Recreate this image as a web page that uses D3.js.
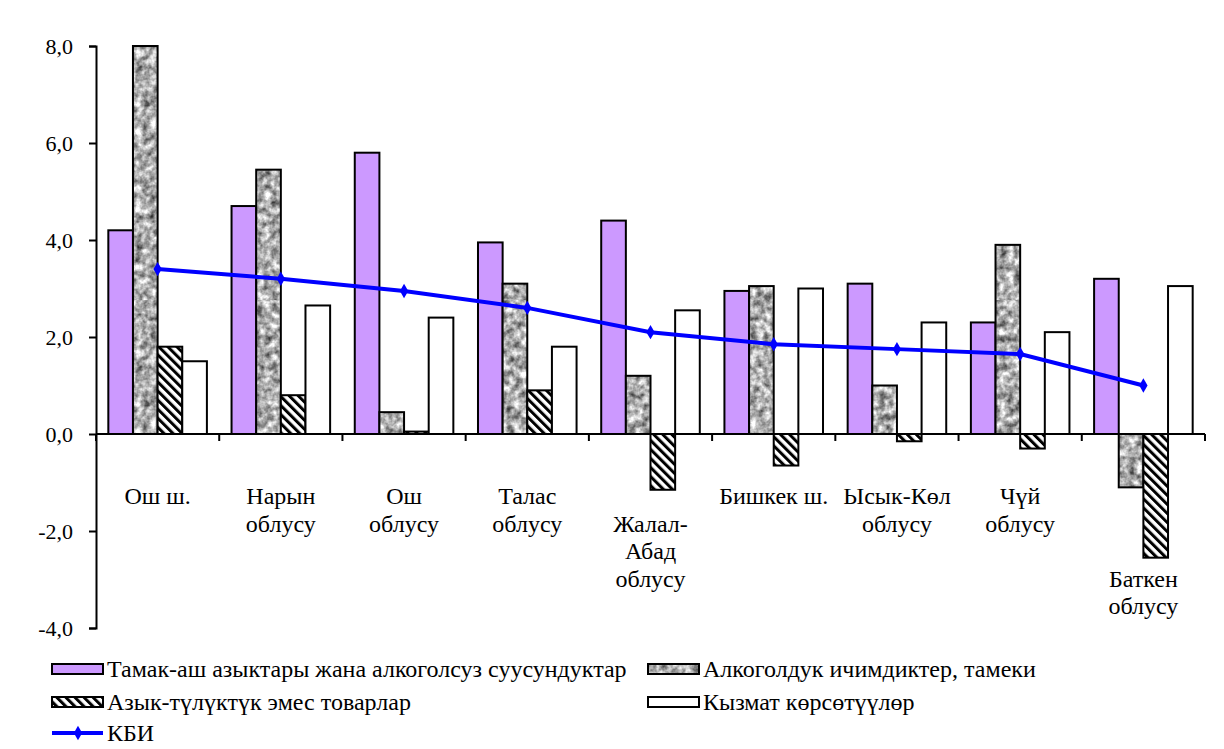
<!DOCTYPE html>
<html>
<head>
<meta charset="utf-8">
<script src="https://cdn.jsdelivr.net/npm/d3@7"></script>
<style>
  body { margin: 0; background: #fff; }
</style>
</head>
<body>
<div id="chart"></div>
<script>
var regions = ["Ош ш.", "Нарын облусу", "Ош облусу", "Талас облусу", "Жалал-Абад облусу",
               "Бишкек ш.", "Ысык-Көл облусу", "Чүй облусу", "Баткен облусу"];
// label lines as printed under the axis
var regionLines = [["Ош ш."], ["Нарын", "облусу"], ["Ош", "облусу"], ["Талас", "облусу"],
                   ["Жалал-", "Абад", "облусу"], ["Бишкек ш."], ["Ысык-Көл", "облусу"],
                   ["Чүй", "облусу"], ["Баткен", "облусу"]];
var seriesNames = ["Тамак-аш азыктары жана алкоголсуз суусундуктар", "Алкоголдук ичимдиктер, тамеки",
                   "Азык-түлүктүк эмес товарлар", "Кызмат көрсөтүүлөр"];
var food    = [4.2, 4.7, 5.8, 3.95, 4.4, 2.95, 3.1, 2.3, 3.2];
var alcohol = [8.0, 5.45, 0.45, 3.1, 1.2, 3.05, 1.0, 3.9, -1.1];
var nonfood = [1.8, 0.8, 0.05, 0.9, -1.15, -0.65, -0.15, -0.3, -2.55];
var service = [1.5, 2.65, 2.4, 1.8, 2.55, 3.0, 2.3, 2.1, 3.05];
var kbi     = [3.4, 3.2, 2.95, 2.6, 2.1, 1.85, 1.75, 1.65, 1.0];
var yTicks  = [-4, -2, 0, 2, 4, 6, 8];

var width = 1224, height = 749;
var serif = "'Liberation Serif', 'Times New Roman', 'DejaVu Serif', serif";
var fills = ["#cc99ff", "url(#granite)", "url(#hatch)", "#ffffff"];
var values = [food, alcohol, nonfood, service];
// how many lines each label is pushed down
var labelShift = [0, 0, 0, 0, 1, 0, 0, 0, 3];

var svg = d3.select("#chart").append("svg")
    .attr("width", width)
    .attr("height", height)
    .attr("font-family", serif);

var defs = svg.append("defs");

// granite-like texture for alcohol bars
var noise = defs.append("filter").attr("id", "noise")
    .attr("x", 0).attr("y", 0).attr("width", 1).attr("height", 1)
    .attr("color-interpolation-filters", "sRGB");
noise.append("feTurbulence")
    .attr("type", "fractalNoise")
    .attr("baseFrequency", 0.14)
    .attr("numOctaves", 3)
    .attr("seed", 4);
noise.append("feColorMatrix")
    .attr("type", "matrix")
    .attr("values", "1.2 0 0 0 0.08  1.2 0 0 0 0.08  1.2 0 0 0 0.08  0 0 0 0 1");
defs.append("pattern").attr("id", "granite")
    .attr("patternUnits", "userSpaceOnUse")
    .attr("width", 300).attr("height", 300)
  .append("rect")
    .attr("width", 300).attr("height", 300)
    .attr("filter", "url(#noise)");

var hatch = defs.append("pattern").attr("id", "hatch")
    .attr("patternUnits", "userSpaceOnUse")
    .attr("width", 6.4).attr("height", 6.4)
    .attr("patternTransform", "rotate(-45)");
hatch.append("rect").attr("width", 6.4).attr("height", 6.4).attr("fill", "#fff");
hatch.append("rect").attr("width", 3).attr("height", 6.4).attr("fill", "#000");

var x = d3.scaleBand()
    .domain(regions)
    .range([96, 1205]);

var xs = d3.scaleBand()
    .domain(d3.range(4))
    .range([0, x.bandwidth()])
    .paddingOuter(0.5);

var y = d3.scaleLinear()
    .domain([-4, 8])
    .range([628, 46]);

// bars
values.forEach(function(vals, s) {
  svg.append("g").selectAll("rect")
      .data(vals)
      .enter().append("rect")
      .attr("x", function(d, i) { return x(regions[i]) + xs(s); })
      .attr("y", function(d) { return y(Math.max(0, d)); })
      .attr("width", xs.bandwidth())
      .attr("height", function(d) { return Math.abs(y(d) - y(0)); })
      .attr("fill", fills[s])
      .attr("stroke", "#000")
      .attr("stroke-width", 2);
});

// y axis
var yAxis = d3.axisLeft(y)
    .tickValues(yTicks)
    .tickSize(7)
    .tickPadding(16)
    .tickFormat(function(d) { return d3.format(".1f")(d).replace(".", ",").replace("\u2212", "-"); });

svg.append("g")
    .attr("transform", "translate(96,0)")
    .call(yAxis)
    .attr("font-family", serif)
    .attr("font-size", 22)
    .call(function(g) {
      g.selectAll("path, line").attr("stroke", "#000").attr("stroke-width", 2);
    });

// x axis line at zero with ticks on category edges
var xAxisG = svg.append("g");
xAxisG.append("line")
    .attr("x1", 96).attr("x2", 1205)
    .attr("y1", y(0)).attr("y2", y(0))
    .attr("stroke", "#000").attr("stroke-width", 2);
xAxisG.selectAll(".xt")
    .data(regions.map(function(r) { return x(r); }).concat([x.range()[1]]))
    .enter().append("line")
    .attr("x1", function(d) { return d; }).attr("x2", function(d) { return d; })
    .attr("y1", y(0)).attr("y2", y(0) + 7)
    .attr("stroke", "#000").attr("stroke-width", 2);

// category labels
var lineH = 27.5;
regions.forEach(function(r, i) {
  var t = svg.append("text")
      .attr("x", x(r) + x.bandwidth() / 2)
      .attr("y", 504 + labelShift[i] * lineH)
      .attr("text-anchor", "middle")
      .attr("font-size", 24);
  regionLines[i].forEach(function(l, j) {
    t.append("tspan")
        .attr("x", x(r) + x.bandwidth() / 2)
        .attr("dy", j === 0 ? 0 : lineH)
        .text(l);
  });
});

// KBI line
var line = d3.line()
    .x(function(d, i) { return x(regions[i]) + x.bandwidth() / 2; })
    .y(function(d) { return y(d); });

svg.append("path")
    .datum(kbi)
    .attr("d", line)
    .attr("fill", "none")
    .attr("stroke", "#0000ff")
    .attr("stroke-width", 4);

var diamond = d3.symbol().type(d3.symbolDiamond).size(60);
svg.append("g").selectAll("path")
    .data(kbi)
    .enter().append("path")
    .attr("d", diamond)
    .attr("transform", function(d, i) {
      return "translate(" + (x(regions[i]) + x.bandwidth() / 2) + "," + y(d) + ")";
    })
    .attr("fill", "#0000ff");

// legend
var legendItems = [
  { name: seriesNames[0], fill: fills[0], x: 52, y: 669 },
  { name: seriesNames[1], fill: fills[1], x: 648, y: 669 },
  { name: seriesNames[2], fill: fills[2], x: 52, y: 702 },
  { name: seriesNames[3], fill: fills[3], x: 648, y: 702 }
];
var legend = svg.append("g").attr("font-size", 24);
legendItems.forEach(function(it) {
  legend.append("rect")
      .attr("x", it.x).attr("y", it.y - 5)
      .attr("width", 51).attr("height", 10)
      .attr("fill", it.fill)
      .attr("stroke", "#000").attr("stroke-width", 2);
  legend.append("text")
      .attr("x", it.x + 55).attr("y", it.y + 8)
      .text(it.name);
});
legend.append("line")
    .attr("x1", 52).attr("x2", 103)
    .attr("y1", 733).attr("y2", 733)
    .attr("stroke", "#0000ff").attr("stroke-width", 4);
legend.append("path")
    .attr("d", diamond)
    .attr("transform", "translate(78,733)")
    .attr("fill", "#0000ff");
legend.append("text")
    .attr("x", 107).attr("y", 741)
    .text("КБИ");
</script>
</body>
</html>
